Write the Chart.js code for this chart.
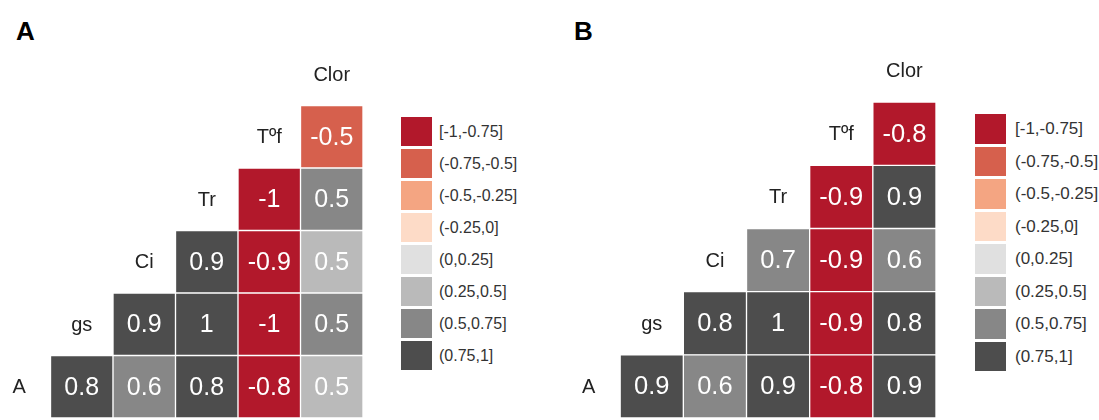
<!DOCTYPE html>
<html>
<head>
<meta charset="utf-8">
<script src="https://cdn.jsdelivr.net/npm/chart.js@4/dist/chart.umd.min.js"></script>
<style>
  html, body { margin: 0; padding: 0; background: #ffffff; }
  body { width: 1099px; height: 420px; position: relative; overflow: hidden;
         font-family: "Liberation Sans", Arial, sans-serif; }
  .tag { position: absolute; font: bold 26px "Liberation Sans", Arial, sans-serif;
         line-height: 26px; color: #000; }
  .panel { position: absolute; }
  .legend { position: absolute; }
  .legend .item { position: absolute; left: 0; }
  .legend .sw { position: absolute; left: 0; top: 0; }
  .legend .lb { position: absolute; white-space: nowrap; color: #333; }
</style>
</head>
<body>
<div class="tag" style="left:16px;top:18px;">A</div>
<div class="tag" style="left:574px;top:18px;">B</div>

<div class="panel" style="left:-12px;top:43px;"><canvas id="corrA" width="375" height="375"></canvas></div>
<div class="panel" style="left:557px;top:39px;"><canvas id="corrB" width="379" height="379"></canvas></div>

<div class="legend" id="legendA" style="left:401px;top:117px;"></div>
<div class="legend" id="legendB" style="left:975px;top:114px;"></div>

<script>
// Variables in the order they run along the diagonal (bottom-left to top-right)
const variables = ['A', 'gs', 'Ci', 'Tr', 'Tºf', 'Clor'];

// Colour classes of the correlation coefficient
const binLabels = ['[-1,-0.75]', '(-0.75,-0.5]', '(-0.5,-0.25]', '(-0.25,0]',
                   '(0,0.25]', '(0.25,0.5]', '(0.5,0.75]', '(0.75,1]'];
const binColors = ['#B2182B', '#D6604D', '#F4A582', '#FDDBC7',
                   '#E0E0E0', '#BABABA', '#878787', '#4D4D4D'];

// Panel A: row i holds correlations of variables[i] with every variable after it
const corrA_A   = [0.82, 0.62, 0.81, -0.83, 0.47];   // A vs gs, Ci, Tr, Tºf, Clor
const corrA_gs  = [0.91, 0.98, -0.97, 0.53];         // gs vs Ci, Tr, Tºf, Clor
const corrA_Ci  = [0.89, -0.91, 0.47];               // Ci vs Tr, Tºf, Clor
const corrA_Tr  = [-0.97, 0.53];                     // Tr vs Tºf, Clor
const corrA_Tf  = [-0.52];                           // Tºf vs Clor

// Panel B
const corrB_A   = [0.88, 0.62, 0.91, -0.82, 0.88];
const corrB_gs  = [0.81, 0.98, -0.91, 0.82];
const corrB_Ci  = [0.71, -0.89, 0.62];
const corrB_Tr  = [-0.91, 0.89];
const corrB_Tf  = [-0.81];

const rowsA = [corrA_A, corrA_gs, corrA_Ci, corrA_Tr, corrA_Tf];
const rowsB = [corrB_A, corrB_gs, corrB_Ci, corrB_Tr, corrB_Tf];

function binIndex(v) {
  for (let k = 0; k < binColors.length; k++) {
    if (v <= -1 + 0.25 * (k + 1) + 1e-9) return k;
  }
  return binColors.length - 1;
}

function labelOf(v) {
  return String(Math.round(v * 10) / 10);
}

function buildDatasets(rows) {
  return rows.map((vals, i) => ({
    label: variables[i],
    data: vals.map((v, k) => ({ x: variables[i + 1 + k], y: [i - 0.5, i + 0.5], v: v })),
    backgroundColor: ctx => binColors[binIndex(ctx.raw.v)],
    borderColor: '#ffffff',
    borderWidth: 1,
    borderSkipped: false,
    grouped: false,
    categoryPercentage: 1,
    barPercentage: 1
  }));
}

// Writes the coefficient in each cell and the variable names on the diagonal
const cellText = {
  id: 'cellText',
  afterDatasetsDraw(chart, args, opts) {
    const ctx = chart.ctx;
    ctx.save();
    ctx.textAlign = 'center';
    ctx.textBaseline = 'middle';
    ctx.font = opts.valueSize + 'px "Liberation Sans", Arial, sans-serif';
    ctx.fillStyle = '#ffffff';
    chart.data.datasets.forEach((ds, di) => {
      const meta = chart.getDatasetMeta(di);
      meta.data.forEach((el, k) => {
        const cy = (el.y + el.base) / 2;
        ctx.fillText(labelOf(ds.data[k].v), el.x, cy + 1);
      });
    });
    const xs = chart.scales.x, ys = chart.scales.y;
    ctx.font = opts.nameSize + 'px "Liberation Sans", Arial, sans-serif';
    ctx.fillStyle = '#222222';
    variables.forEach((name, j) => {
      ctx.fillText(name, xs.getPixelForValue(j), ys.getPixelForValue(j) + 1);
    });
    ctx.restore();
  }
};

function makeChart(id, rows, valueSize, nameSize) {
  return new Chart(document.getElementById(id), {
    type: 'bar',
    data: { labels: variables, datasets: buildDatasets(rows) },
    options: {
      responsive: false,
      animation: false,
      devicePixelRatio: 1,
      layout: { padding: 0 },
      scales: {
        x: { type: 'category', offset: true, display: false, grid: { display: false } },
        y: { type: 'linear', min: -0.5, max: 5.5, display: false, grid: { display: false } }
      },
      plugins: {
        legend: { display: false },
        tooltip: { enabled: false },
        cellText: { valueSize: valueSize, nameSize: nameSize }
      }
    },
    plugins: [cellText]
  });
}

makeChart('corrA', rowsA, 25, 20);
makeChart('corrB', rowsB, 25.5, 20);

function buildLegend(id, sw, sh, pitch, textLeft, fontSize) {
  const box = document.getElementById(id);
  binLabels.forEach((txt, k) => {
    const item = document.createElement('div');
    item.className = 'item';
    item.style.top = (k * pitch) + 'px';
    const s = document.createElement('div');
    s.className = 'sw';
    s.style.width = sw + 'px';
    s.style.height = sh + 'px';
    s.style.background = binColors[k];
    const l = document.createElement('div');
    l.className = 'lb';
    l.style.left = textLeft + 'px';
    l.style.fontSize = fontSize + 'px';
    l.style.lineHeight = sh + 'px';
    l.style.top = '0px';
    l.textContent = txt;
    item.appendChild(s);
    item.appendChild(l);
    box.appendChild(item);
  });
}

buildLegend('legendA', 31, 29, 32.06, 38, 16);
buildLegend('legendB', 31, 29.5, 32.5, 40, 17);
</script>
</body>
</html>
